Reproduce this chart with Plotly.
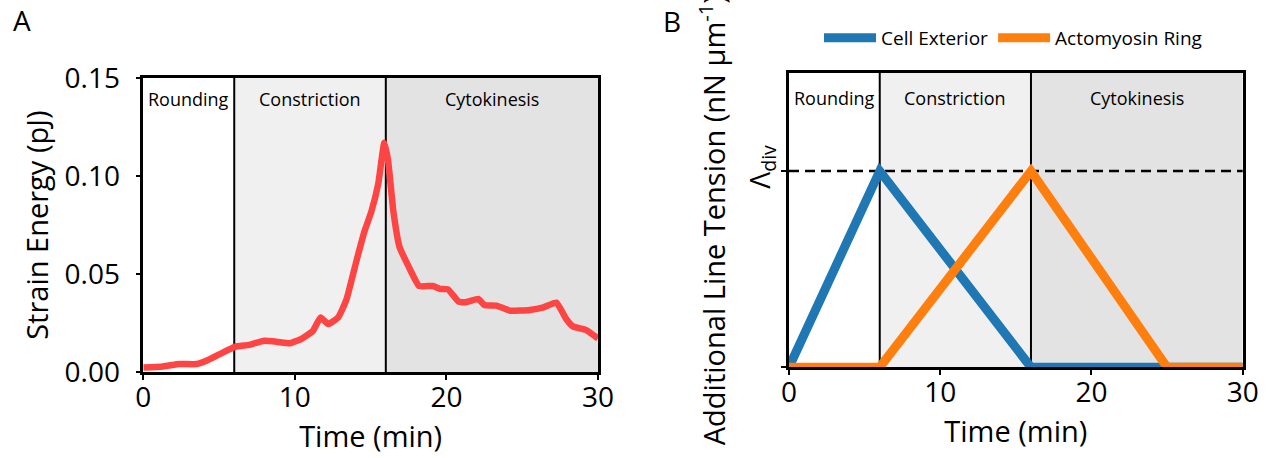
import plotly.graph_objects as go

# ---------------- data ----------------
TIME_A = [0.0, 1.3, 2.4, 3.5, 4.2, 5.05, 6.04, 7.0, 7.9, 8.8, 9.67, 10.5, 11.2, 11.7,
          12.2, 12.86, 13.4, 14.07, 14.6, 15.05, 15.5, 15.9, 16.15, 16.5, 16.9, 17.5,
          18.2, 19.1, 19.56, 20.1, 20.8, 21.3, 22.1, 22.5, 23.3, 24.2, 25.5, 26.4,
          27.25, 27.9, 28.35, 29.2, 30.0]
ENERGY_A = [0.0025, 0.003, 0.0042, 0.0042, 0.006, 0.0093, 0.013, 0.014, 0.016, 0.0156,
            0.0148, 0.0173, 0.0212, 0.028, 0.0246, 0.028, 0.037, 0.057, 0.072, 0.082,
            0.096, 0.117, 0.108, 0.082, 0.064, 0.054, 0.044, 0.044, 0.0425, 0.0423,
            0.036, 0.0357, 0.0374, 0.0343, 0.034, 0.0314, 0.0318, 0.0331, 0.0355,
            0.0272, 0.0234, 0.0216, 0.0172]

TIME_B = [0, 6, 16, 25, 30]
CELL_EXTERIOR = [0, 1, 0, 0, 0]
ACTOMYOSIN_RING = [0, 0, 1, 0, 0]
LAMBDA_DIV = 1.0

PHASE_NAMES = ["Rounding", "Constriction", "Cytokinesis"]
PHASE_EDGES = [0, 6, 16, 30]
PHASE_FILLS = ["#ffffff", "#f0f0f0", "#e3e3e3"]

X_TICKS = [0, 10, 20, 30]
Y_TICKS_A = [0, 0.05, 0.10, 0.15]

FONT = "Open Sans"
W, H = 1270, 458

fig = go.Figure()

fig.add_trace(go.Scatter(x=TIME_A, y=ENERGY_A, mode="lines", xaxis="x", yaxis="y",
                         line=dict(color="#ff4444", width=6.5, shape="spline", smoothing=0.4),
                         showlegend=False, hoverinfo="skip"))
fig.add_trace(go.Scatter(x=TIME_B, y=CELL_EXTERIOR, mode="lines", xaxis="x2", yaxis="y2",
                         name="Cell Exterior", line=dict(color="#1f77b4", width=9)))
fig.add_trace(go.Scatter(x=TIME_B, y=ACTOMYOSIN_RING, mode="lines", xaxis="x2", yaxis="y2",
                         name="Actomyosin Ring", line=dict(color="#ff7f0e", width=9)))

shapes = []
annotations = []
for xa, ya, ylab in (("x", "y", 0.929), ("x2", "y2", 0.915)):
    for i, name in enumerate(PHASE_NAMES):
        x0, x1 = PHASE_EDGES[i], PHASE_EDGES[i + 1]
        shapes.append(dict(type="rect", xref=xa, yref=f"{ya} domain", x0=x0, x1=x1,
                           y0=0, y1=1, fillcolor=PHASE_FILLS[i], line_width=0, layer="below"))
        annotations.append(dict(text=name, xref=xa, yref=f"{ya} domain",
                                x=(x0 + x1) / 2, y=ylab, showarrow=False,
                                font=dict(family=FONT, size=18, color="black"),
                                xanchor="center", yanchor="middle"))
    for edge in PHASE_EDGES[1:-1]:
        shapes.append(dict(type="line", xref=xa, yref=f"{ya} domain", x0=edge, x1=edge,
                           y0=0, y1=1, line=dict(color="black", width=2), layer="below"))

shapes.append(dict(type="line", xref="x2 domain", yref="y2", x0=0, x1=1,
                   y0=LAMBDA_DIV, y1=LAMBDA_DIV,
                   line=dict(color="black", width=2.5, dash="10px,6px"), layer="below"))

annotations.append(dict(text="A", xref="paper", yref="paper", x=22 / W, y=1 - 20 / H,
                        showarrow=False, font=dict(family=FONT, size=28, color="black"),
                        xanchor="center", yanchor="middle"))
annotations.append(dict(text="B", xref="paper", yref="paper", x=672 / W, y=1 - 21 / H,
                        showarrow=False, font=dict(family=FONT, size=28, color="black"),
                        xanchor="center", yanchor="middle"))

axis_common = dict(showline=True, linecolor="black", linewidth=2.5, mirror=True,
                   ticks="outside", ticklen=5, tickwidth=2, tickcolor="black",
                   showgrid=False, zeroline=False, automargin=False,
                   tickfont=dict(family=FONT, size=28, color="black"))

x_title = dict(text="Time (min)", font=dict(family=FONT, size=29), standoff=14)

fig.update_layout(
    width=W, height=H,
    margin=dict(l=0, r=0, t=0, b=0, autoexpand=False),
    paper_bgcolor="white", plot_bgcolor="white",
    font=dict(family=FONT, color="black"),
    shapes=shapes, annotations=annotations,
    xaxis=dict(domain=[143.3 / W, 598 / W], range=[0, 30], tickvals=X_TICKS, anchor="y",
               ticklabelstandoff=-7, title=x_title, **axis_common),
    yaxis=dict(domain=[1 - 372.3 / H, 1 - 78 / H], range=[0, 0.15], tickvals=Y_TICKS_A,
               tickformat=".2f", anchor="x", ticklabelstandoff=10,
               title=dict(text="Strain Energy (pJ)", font=dict(family=FONT, size=29), standoff=8),
               **axis_common),
    xaxis2=dict(domain=[789 / W, 1242.7 / W], range=[0, 30], tickvals=X_TICKS, anchor="y2",
                ticklabelstandoff=-7, title=x_title, **axis_common),
    yaxis2=dict(domain=[1 - 367.3 / H, 1 - 73 / H], range=[0, 1.5],
                tickvals=[0, LAMBDA_DIV], ticktext=["", "Λ<sub>div</sub>"], tickangle=-90,
                anchor="x2",
                title=dict(text="Additional Line Tension (nN μm<sup>-1</sup>)",
                           font=dict(family=FONT, size=29), standoff=6),
                **axis_common),
    legend=dict(orientation="h", x=819 / W, y=1 - 19 / H, xanchor="left", yanchor="top",
                font=dict(family=FONT, size=19, color="black"),
                bgcolor="rgba(0,0,0,0)", itemwidth=52, tracegroupgap=0),
)

fig.write_html("out.html", config={"displayModeBar": False},
               post_script="document.body.style.margin='0';")
